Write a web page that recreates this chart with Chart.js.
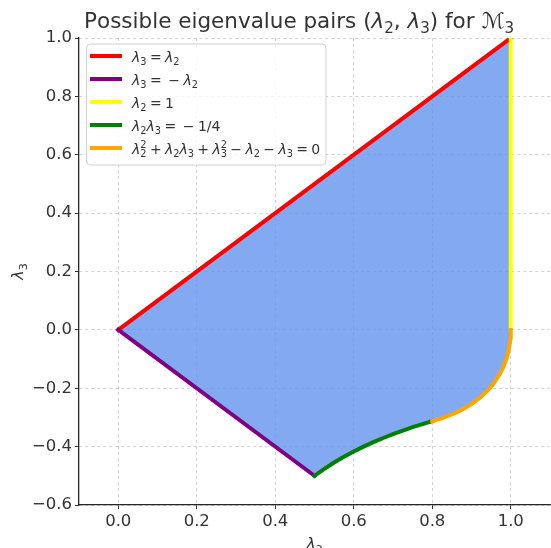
<!DOCTYPE html>
<html>
<head>
<meta charset="utf-8">
<script src="https://cdn.jsdelivr.net/npm/chart.js@4.4.1/dist/chart.umd.min.js"></script>
<style>
  html, body { margin: 0; padding: 0; background: #fff; }
  canvas { display: block; }
</style>
</head>
<body>
<canvas id="c" width="551" height="548"></canvas>
<script>
// boundary pieces of the region
const diagX = [0, 1];
const diagY = [0, 1];
const antiX = [0, 0.5];
const antiY = [0, -0.5];
const edgeX = [1, 1];
const edgeY = [0, 1];
const hypX = [0.5, 0.525, 0.55, 0.575, 0.6, 0.625, 0.65, 0.675, 0.7, 0.725, 0.75, 0.775, 0.8];
const hypY = [-0.5, -0.4762, -0.4545, -0.4348, -0.4167, -0.4, -0.3846, -0.3704, -0.3571, -0.3448, -0.3333, -0.3226, -0.3125];
const ellX = [0.8, 0.825, 0.85, 0.875, 0.9, 0.92, 0.94, 0.955, 0.97, 0.98, 0.985, 0.99, 0.995, 0.998, 0.999, 0.9998, 1];
const ellY = [-0.3123, -0.3024, -0.2899, -0.2741, -0.2541, -0.2342, -0.2094, -0.186, -0.1562, -0.1304, -0.1143, -0.0946, -0.0681, -0.0437, -0.0311, -0.014, 0];

const xTicks = [0, 0.2, 0.4, 0.6, 0.8, 1.0];
const yTicks = [-0.6, -0.4, -0.2, 0, 0.2, 0.4, 0.6, 0.8, 1.0];

const labels = ['λ_3 = λ_2', 'λ_3 =  − λ_2', 'λ_2 = 1', 'λ_2λ_3 =  − 1/4', 'λ_2^2 + λ_2λ_3 + λ_3^2 − λ_2 − λ_3 = 0'];
const colors = ['#ff0000', '#800080', '#ffff00', '#008000', '#ffa500'];

const FONT = '"DejaVu Sans", sans-serif';
const TEXT = '#333333';

const pts = (xs, ys) => xs.map((x, i) => ({ x, y: ys[i] }));

// closed outline for the shaded area
const region = [].concat(
  pts(diagX, diagY),
  pts(edgeX.slice().reverse(), edgeY.slice().reverse()),
  pts(ellX, ellY).reverse(),
  pts(hypX, hypY).reverse(),
  pts(antiX, antiY).reverse()
);

const lineSet = (data, i) => ({
  data,
  borderColor: colors[i],
  borderWidth: 4,
  borderCapStyle: 'square',
  borderJoinStyle: 'round',
  pointRadius: 0,
  fill: false,
  tension: 0,
  order: 5 - i
});

// small mathtext: _x subscript, ^x superscript (stacked over a preceding sub), λ italic
function layoutMath(ctx, str, size, spaceEm) {
  const items = [];
  let x = 0;
  let lastSub = null;
  for (let i = 0; i < str.length; i++) {
    let ch = str[i];
    let kind = 'base';
    if (ch === '_' || ch === '^') {
      kind = ch === '_' ? 'sub' : 'sup';
      ch = str[++i];
    }
    const italic = ch === 'λ';
    const fs = kind === 'base' ? size : size * 0.7;
    const font = (italic ? 'italic ' : '') + fs + 'px ' + FONT;
    ctx.font = font;
    let w = ctx.measureText(ch).width;
    if (ch === ' ' && spaceEm != null) w = size * spaceEm;
    let px = x;
    if (kind === 'sup' && lastSub) px = lastSub.x;
    const dy = kind === 'sub' ? size * 0.22 : kind === 'sup' ? -size * 0.4 : 0;
    items.push({ ch, font, x: px, dy });
    x = Math.max(x, px + w);
    lastSub = kind === 'sub' ? { x: px } : null;
  }
  return { items, width: x };
}

function drawMath(ctx, str, x, y, size, align, spaceEm) {
  const lay = layoutMath(ctx, str, size, spaceEm);
  const x0 = align === 'center' ? x - lay.width / 2 : x;
  ctx.textBaseline = 'alphabetic';
  ctx.textAlign = 'left';
  lay.items.forEach(it => {
    if (it.ch === ' ') return;
    ctx.font = it.font;
    ctx.fillText(it.ch, x0 + it.x, y + it.dy);
  });
}

const decorations = {
  id: 'decorations',
  afterDraw(chart) {
    const ctx = chart.ctx;
    const area = chart.chartArea;
    ctx.save();
    ctx.fillStyle = TEXT;

    // title
    drawMath(ctx, 'Possible eigenvalue pairs (λ_2, λ_3) for ℳ_3', 299, 28, 21.5, 'center');

    // axis titles
    drawMath(ctx, 'λ_2', (area.left + area.right) / 2, 549, 16, 'center');
    ctx.save();
    ctx.translate(23, (area.top + area.bottom) / 2);
    ctx.rotate(-Math.PI / 2);
    drawMath(ctx, 'λ_3', 0, 0, 16, 'center');
    ctx.restore();

    // legend box
    const bx = 86.5, by = 44, bw = 239.5, bh = 121, r = 4;
    ctx.beginPath();
    ctx.roundRect(bx, by, bw, bh, r);
    ctx.fillStyle = 'rgba(255,255,255,0.8)';
    ctx.fill();
    ctx.strokeStyle = '#d0d0d0';
    ctx.lineWidth = 1;
    ctx.stroke();

    labels.forEach((lab, i) => {
      const cy = 56 + i * 23;
      ctx.beginPath();
      ctx.moveTo(90, cy);
      ctx.lineTo(122, cy);
      ctx.strokeStyle = colors[i];
      ctx.lineWidth = 4;
      ctx.lineCap = 'butt';
      ctx.stroke();
      ctx.fillStyle = TEXT;
      drawMath(ctx, lab, 132, cy + 5.5, 14, 'left', 0.24);
    });
    ctx.restore();
  }
};

const fmt = v => (Math.abs(v) < 1e-9 ? '0.0' : v.toFixed(1).replace('-', '\u2212'));

new Chart(document.getElementById('c'), {
  type: 'line',
  data: {
    datasets: [
      {
        data: region,
        borderWidth: 0,
        borderColor: 'rgba(0,0,0,0)',
        backgroundColor: 'rgba(100,149,237,0.8)',
        pointRadius: 0,
        fill: 'shape',
        tension: 0,
        order: 10
      },
      lineSet(pts(diagX, diagY), 0),
      lineSet(pts(antiX, antiY), 1),
      lineSet(pts(edgeX, edgeY), 2),
      lineSet(pts(hypX, hypY), 3),
      lineSet(pts(ellX, ellY), 4)
    ]
  },
  options: {
    responsive: false,
    animation: false,
    events: [],
    layout: { padding: { top: 38, right: 1, left: 0, bottom: 0 } },
    scales: {
      x: {
        type: 'linear',
        min: -0.1,
        max: 1.1,
        afterBuildTicks: s => { s.ticks = xTicks.map(v => ({ value: v })); },
        afterFit: s => { s.height = 43; },
        ticks: { callback: fmt, color: TEXT, font: { family: FONT, size: 16.5 }, padding: 3, maxRotation: 0, autoSkip: false },
        grid: { color: 'rgba(176,176,176,0.7)', lineWidth: 0.8, tickLength: 4, tickColor: '#333', tickWidth: 1 },
        border: { color: '#262626', width: 1.3, dash: [3, 3] }
      },
      y: {
        type: 'linear',
        min: -0.6,
        max: 1.0,
        afterBuildTicks: s => { s.ticks = yTicks.map(v => ({ value: v })); },
        afterFit: s => { s.width = 79; },
        ticks: { callback: fmt, color: TEXT, font: { family: FONT, size: 16.5 }, padding: 3, autoSkip: false },
        grid: { color: 'rgba(176,176,176,0.7)', lineWidth: 0.8, tickLength: 4, tickColor: '#333', tickWidth: 1 },
        border: { color: '#262626', width: 1.3, dash: [3, 3] }
      }
    },
    plugins: {
      legend: { display: false },
      title: { display: false },
      tooltip: { enabled: false }
    }
  },
  plugins: [decorations]
});
</script>
</body>
</html>
